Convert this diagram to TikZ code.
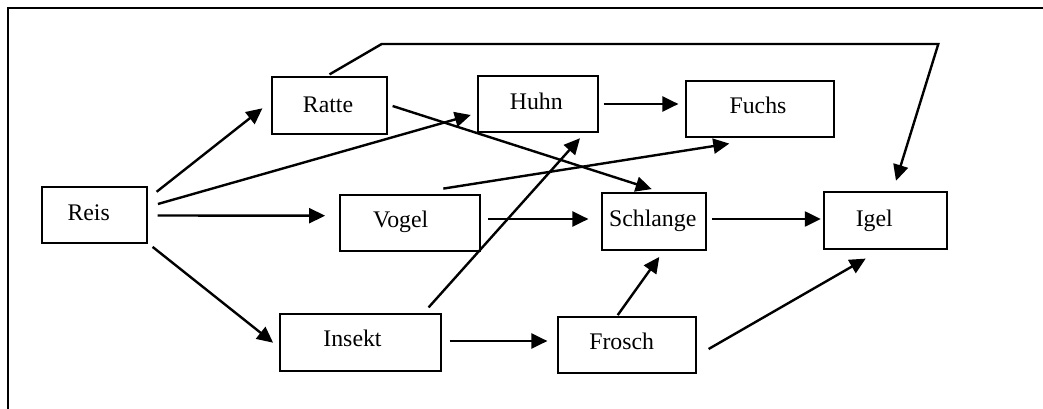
\documentclass[tikz,border=0pt]{standalone}
\usepackage{fontspec}
\setmainfont{Liberation Serif}
\usetikzlibrary{arrows.meta}
\tikzset{
  boxst/.style={draw=black, line width=1.8pt, rectangle, inner sep=0pt},
  lbl/.style={anchor=base, inner sep=0pt, font=\fontsize{23.8}{28}\selectfont},
  arr/.style={line width=2.4pt, -{Triangle[length=16pt,width=15pt]}},
  frame/.style={line width=1.7pt}
}
\begin{document}
\begin{tikzpicture}[x=1pt,y=-1pt]
\useasboundingbox (0,0) rectangle (1043,409);
% frame (top and left only)
\coordinate (fb) at (8,412);
\coordinate (fc) at (8,8);
\coordinate (fr) at (1046,8);
\draw[frame] (fb) -- (fc) -- (fr);
% boxes
\node[boxst, minimum width=105pt, minimum height=56pt] (reis) at (94.5,215) {};
\node[boxst, minimum width=115pt, minimum height=57pt] (ratte) at (329.5,105.5) {};
\node[boxst, minimum width=120pt, minimum height=56pt] (huhn) at (538,104) {};
\node[boxst, minimum width=148pt, minimum height=56pt] (fuchs) at (760,109) {};
\node[boxst, minimum width=140pt, minimum height=56pt] (vogel) at (410,223) {};
\node[boxst, minimum width=104pt, minimum height=57pt] (schlange) at (654,221.5) {};
\node[boxst, minimum width=123pt, minimum height=57pt] (igel) at (885.5,220.5) {};
\node[boxst, minimum width=161pt, minimum height=57pt] (insekt) at (360.5,342.5) {};
\node[boxst, minimum width=138pt, minimum height=56pt] (frosch) at (627,345) {};
% labels
\node[lbl] (reis-t) at (88.7,220) {Reis};
\node[lbl] (ratte-t) at (328,112.7) {Ratte};
\node[lbl] (huhn-t) at (536.3,109.3) {Huhn};
\node[lbl] (fuchs-t) at (758,113.3) {Fuchs};
\node[lbl] (vogel-t) at (400.7,227.3) {Vogel};
\node[lbl] (schlange-t) at (652.7,226.7) {Schlange};
\node[lbl] (igel-t) at (874.3,226) {Igel};
\node[lbl] (insekt-t) at (352.5,346.7) {Insekt};
\node[lbl] (frosch-t) at (621.7,349.3) {Frosch};
% connectors
\draw[arr] ([shift={(8.7,5.7)}]reis.north east) -- ([shift={(-8.7,2.8)}]ratte.west);
\draw[arr] ([shift={(10,-11)}]reis.east) -- ([shift={(-6.3,11)}]huhn.west);
\draw[arr] ([shift={(9.7,0.5)}]reis.east) -- ([shift={(-14,-7.3)}]vogel.west);
\draw[arr] ([shift={(4.7,3)}]reis.south east) -- ([shift={(-6,0.2)}]insekt.west);
\coordinate (k1) at (381.7,44);
\coordinate (k2) at (938.3,44);
\draw[arr, line join=miter] ([shift={(0,-1.7)}]ratte.north) -- (k1) -- (k2) -- ([shift={(10.5,-10.3)}]igel.north);
\draw[arr] ([shift={(4.7,0.5)}]ratte.east) -- ([shift={(-2.3,-3)}]schlange.north);
\draw[arr] ([shift={(4.7,0)}]huhn.east) -- ([shift={(-6.7,-5)}]fuchs.west);
\draw[arr] ([shift={(33.3,-5.5)}]vogel.north) -- ([shift={(-30.7,5.7)}]fuchs.south);
\draw[arr] ([shift={(7.3,-4)}]vogel.east) -- ([shift={(-12.7,-2.5)}]schlange.west);
\draw[arr] ([shift={(5,-2.5)}]schlange.east) -- ([shift={(-2.3,-1.5)}]igel.west);
\draw[arr] ([shift={(-13.3,-5.7)}]insekt.north east) -- ([shift={(42,5.3)}]huhn.south);
\draw[arr] ([shift={(8,-1.5)}]insekt.east) -- ([shift={(-9.7,-4)}]frosch.west);
\draw[arr] ([shift={(-9.3,-1)}]frosch.north) -- ([shift={(5.3,6)}]schlange.south);
\draw[arr] ([shift={(11.7,4)}]frosch.east) -- ([shift={(-19.8,8.7)}]igel.south);
\end{tikzpicture}
\end{document}
